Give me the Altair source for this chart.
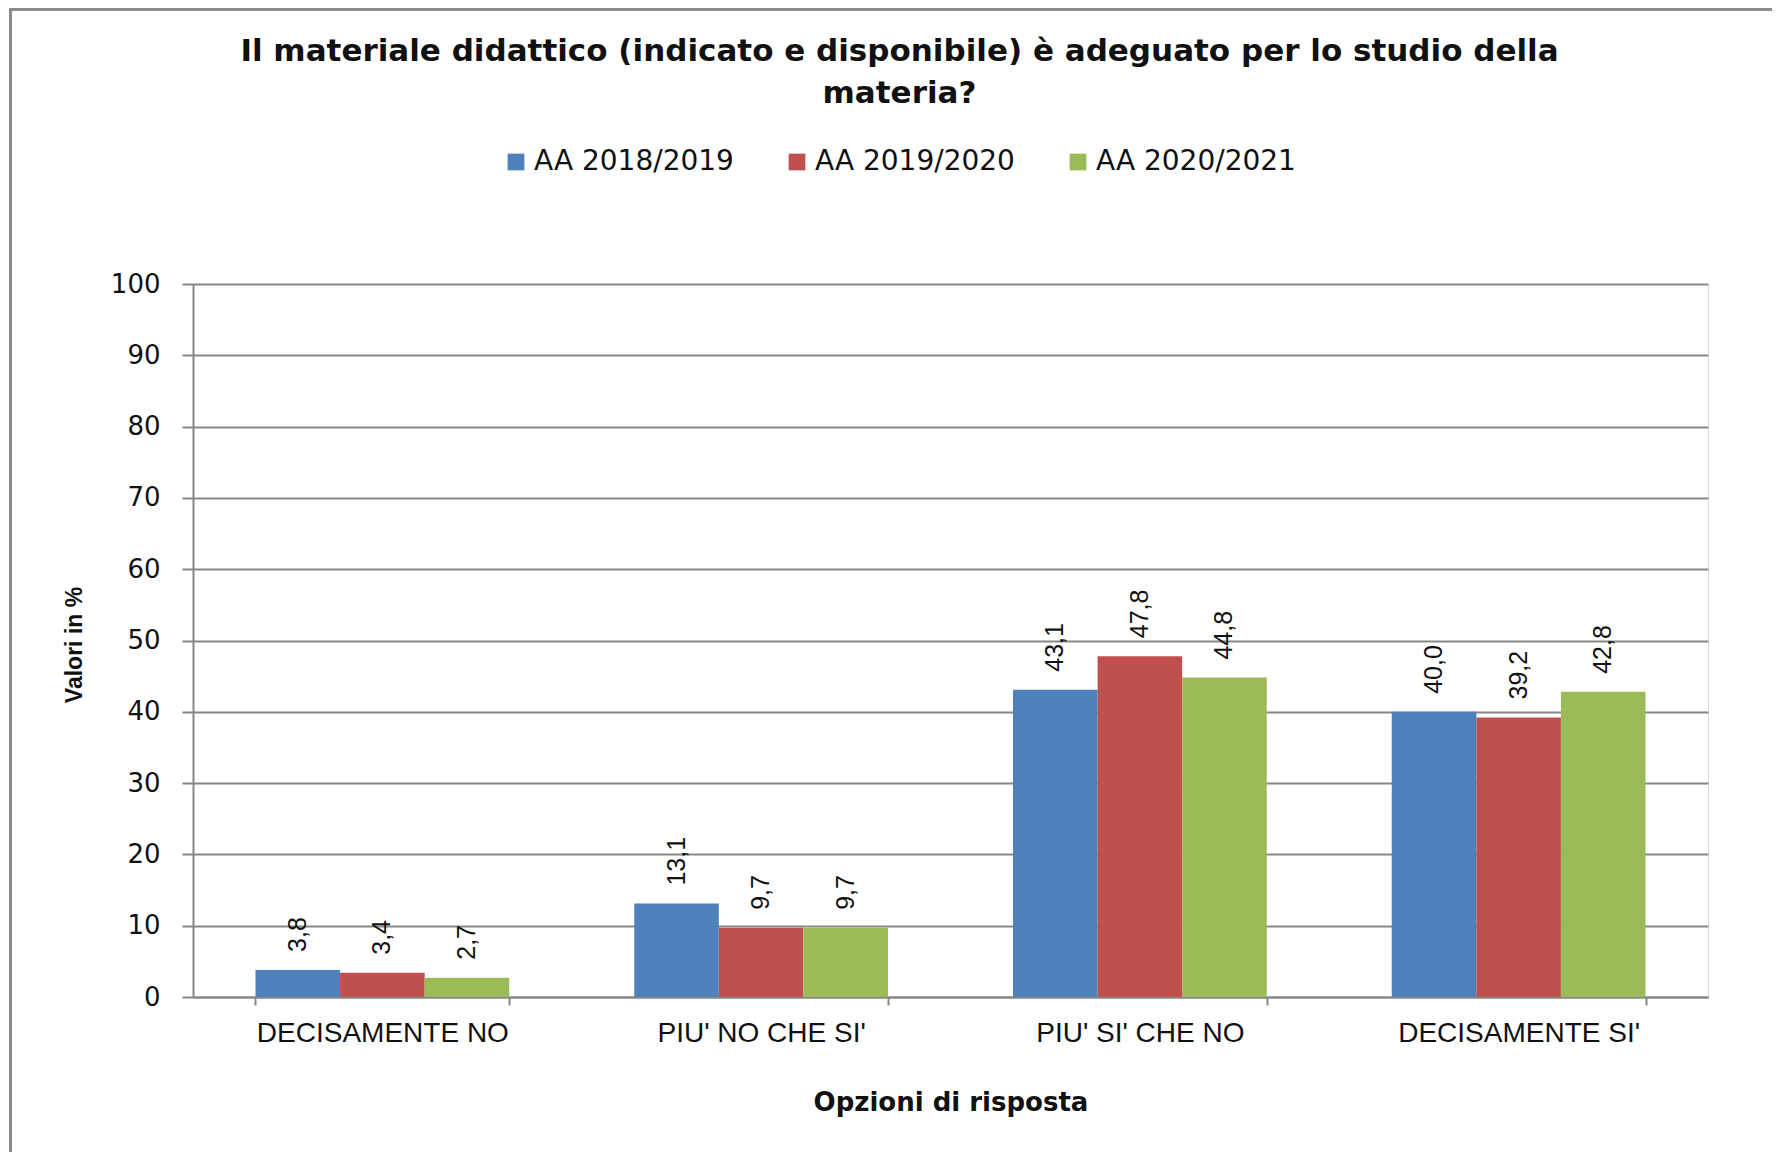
import altair as alt
import pandas as pd

categories = ["DECISAMENTE NO", "PIU' NO CHE SI'", "PIU' SI' CHE NO", "DECISAMENTE SI'"]
years = ["AA 2018/2019", "AA 2019/2020", "AA 2020/2021"]
v2018 = [3.8, 13.1, 43.1, 40.0]
v2019 = [3.4, 9.7, 47.8, 39.2]
v2020 = [2.7, 9.7, 44.8, 42.8]
colors = ["#4F81BD", "#C0504D", "#9BBB59"]
y_ticks = [0, 10, 20, 30, 40, 50, 60, 70, 80, 90, 100]

rows = []
for yr, vals in zip(years, [v2018, v2019, v2020]):
    for c, v in zip(categories, vals):
        rows.append({"cat": c, "year": yr, "val": v, "label": f"{v:.1f}".replace(".", ",")})
df = pd.DataFrame(rows)

W, H = 1515, 713
GRAY = "#878787"

base = alt.Chart(df).encode(
    x=alt.X(
        "cat:N",
        sort=categories,
        scale=alt.Scale(paddingInner=0.33, paddingOuter=0.165),
        axis=alt.Axis(
            title="Opzioni di risposta",
            labelAngle=0,
            tickBand="extent",
            grid=False,
            labelFont="Liberation Sans",
            labelFontSize=28,
            labelColor="#111111",
            labelPadding=14,
            labelLimit=0,
            tickSize=8,
            tickWidth=2,
            tickColor=GRAY,
            domainColor=GRAY,
            domainWidth=2,
            titleFont="DejaVu Sans",
            titleFontSize=26,
            titleFontWeight="bold",
            titleColor="#111111",
            titleBaseline="middle",
            titleY=105,
        ),
    ),
    xOffset=alt.XOffset("year:N", sort=years, scale=alt.Scale(paddingInner=0, paddingOuter=0)),
)

bars = base.mark_bar().encode(
    y=alt.Y(
        "val:Q",
        scale=alt.Scale(domain=[0, 100], nice=False),
        axis=alt.Axis(
            values=y_ticks,
            title="Valori in %",
            grid=True,
            gridColor=GRAY,
            gridWidth=2,
            domainColor=GRAY,
            domainWidth=2,
            tickColor=GRAY,
            tickWidth=2,
            tickSize=11,
            labelFont="DejaVu Sans",
            labelFontSize=26,
            labelColor="#111111",
            labelPadding=22,
            titleFont="Liberation Sans",
            titleFontSize=23,
            titleFontWeight="bold",
            titleColor="#111111",
            titleBaseline="middle",
            titleX=-119,
            titleY=H / 2 + 4,
        ),
    ),
    color=alt.Color(
        "year:N",
        sort=years,
        scale=alt.Scale(domain=years, range=colors),
        legend=alt.Legend(
            title=None,
            orient="none",
            direction="horizontal",
            legendX=309,
            legendY=-136,
            padding=0,
            symbolType="square",
            symbolSize=280,
            symbolStrokeWidth=0,
            labelFont="DejaVu Sans",
            labelFontSize=28,
            labelColor="#111111",
            labelOffset=4,
            labelLimit=0,
            columnPadding=49,
        ),
    ),
)

labels = base.mark_text(
    angle=270, align="left", baseline="middle", dx=18,
    font="Liberation Sans", fontSize=25, color="#111111",
).encode(y=alt.Y("val:Q"), text="label:N")

frame_df = pd.DataFrame({"k": [0]})
left_border = alt.Chart(frame_df).mark_rule(color="#8c8c8c", strokeWidth=3).encode(
    x=alt.value(-182.5), y=alt.value(-276), y2=alt.value(H + 160)
)
top_border = alt.Chart(frame_df).mark_rule(color="#8c8c8c", strokeWidth=3).encode(
    x=alt.value(-184), x2=alt.value(W + 80), y=alt.value(-274.5)
)

chart = alt.layer(bars, labels, left_border, top_border).properties(
    width=W,
    height=H,
    autosize=alt.AutoSizeParams(type="none"),
    padding={"left": 185, "top": 276, "right": 64, "bottom": 155},
    title=alt.TitleParams(
        text=["Il materiale didattico (indicato e disponibile) è adeguato per lo studio della", "materia?"],
        anchor="middle",
        font="DejaVu Sans",
        fontSize=31,
        fontWeight="bold",
        color="#111111",
        lineHeight=42,
        dx=-51,
        dy=103,
        offset=0,
    ),
).configure_view(stroke="transparent", strokeWidth=0).configure(background="white")

chart.save("out.html", embed_options={"renderer": "svg", "actions": False})
